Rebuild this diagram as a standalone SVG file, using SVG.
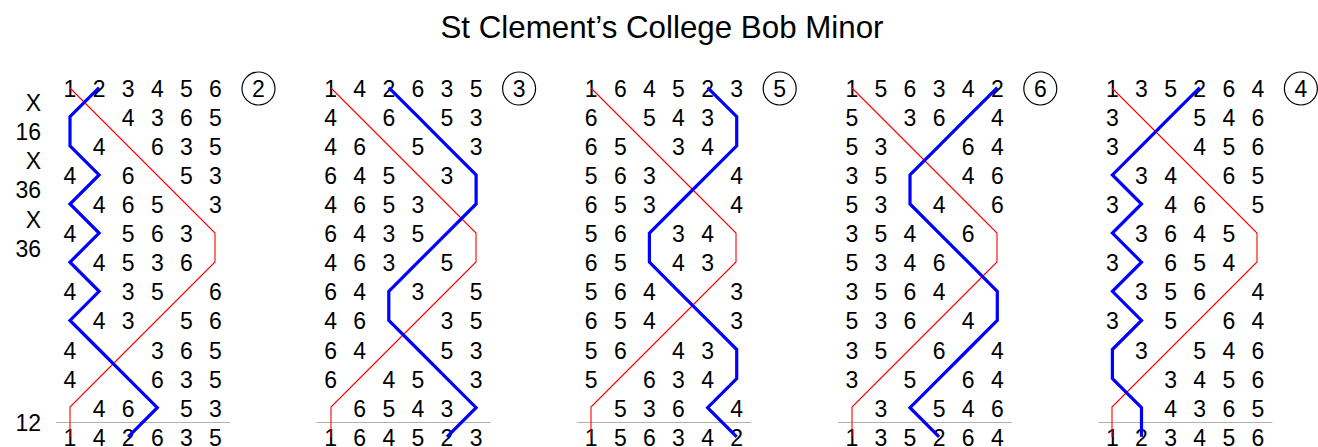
<svg xmlns="http://www.w3.org/2000/svg" width="1318" height="447" viewBox="0 0 1318 447">
<style>
text{font-family:"Liberation Sans",Arial,Helvetica,sans-serif;font-size:23px;fill:#000}
.d{text-anchor:middle}
.pn{text-anchor:end}
.title{font-size:31.3px;text-anchor:middle}
.treble{fill:none;stroke:#ff0000;stroke-width:1.1}
.work{fill:none;stroke:#0000ff;stroke-width:3.2;stroke-linejoin:miter;stroke-miterlimit:10}
.le{stroke:#b0b0b0;stroke-width:1}
.ring{fill:none;stroke:#000;stroke-width:1.2}
</style>
<rect width="1318" height="447" fill="#fff"/>
<text class="title" x="662" y="38">St Clement’s College Bob Minor</text>
<g id="place-notation">
<text class="pn" x="41" y="111.1">X</text>
<text class="pn" x="41" y="140.2">16</text>
<text class="pn" x="41" y="169.3">X</text>
<text class="pn" x="41" y="198.4">36</text>
<text class="pn" x="41" y="227.5">X</text>
<text class="pn" x="41" y="256.6">36</text>
<text class="pn" x="41" y="431.2">12</text>
</g>
<g id="lead1">
<line class="le" x1="56" y1="422.5" x2="230" y2="422.5"/>
<circle class="ring" cx="258.5" cy="88.5" r="16.5"/>
<text class="d" x="258.5" y="96.8">2</text>
<text class="d" y="96.6" x="70 99.1 128.2 157.3 186.4 215.5">123456</text>
<text class="d" y="125.7" x="128.2 157.3 186.4 215.5">4365</text>
<text class="d" y="154.8" x="99.1 157.3 186.4 215.5">4635</text>
<text class="d" y="183.9" x="70 128.2 186.4 215.5">4653</text>
<text class="d" y="213" x="99.1 128.2 157.3 215.5">4653</text>
<text class="d" y="242.1" x="70 128.2 157.3 186.4">4563</text>
<text class="d" y="271.2" x="99.1 128.2 157.3 186.4">4536</text>
<text class="d" y="300.3" x="70 128.2 157.3 215.5">4356</text>
<text class="d" y="329.4" x="99.1 128.2 186.4 215.5">4356</text>
<text class="d" y="358.5" x="70 157.3 186.4 215.5">4365</text>
<text class="d" y="387.6" x="70 157.3 186.4 215.5">4635</text>
<text class="d" y="416.7" x="99.1 128.2 186.4 215.5">4653</text>
<text class="d" y="445.8" x="70 99.1 128.2 157.3 186.4 215.5">142635</text>
</g>
<g id="lead2" transform="translate(260.6,0)">
<line class="le" x1="56" y1="422.5" x2="230" y2="422.5"/>
<circle class="ring" cx="258.5" cy="88.5" r="16.5"/>
<text class="d" x="258.5" y="96.8">3</text>
<text class="d" y="96.6" x="70 99.1 128.2 157.3 186.4 215.5">142635</text>
<text class="d" y="125.7" x="70 128.2 186.4 215.5">4653</text>
<text class="d" y="154.8" x="70 99.1 157.3 215.5">4653</text>
<text class="d" y="183.9" x="70 99.1 128.2 186.4">6453</text>
<text class="d" y="213" x="70 99.1 128.2 157.3">4653</text>
<text class="d" y="242.1" x="70 99.1 128.2 157.3">6435</text>
<text class="d" y="271.2" x="70 99.1 128.2 186.4">4635</text>
<text class="d" y="300.3" x="70 99.1 157.3 215.5">6435</text>
<text class="d" y="329.4" x="70 99.1 186.4 215.5">4635</text>
<text class="d" y="358.5" x="70 99.1 186.4 215.5">6453</text>
<text class="d" y="387.6" x="70 128.2 157.3 215.5">6453</text>
<text class="d" y="416.7" x="99.1 128.2 157.3 186.4">6543</text>
<text class="d" y="445.8" x="70 99.1 128.2 157.3 186.4 215.5">164523</text>
</g>
<g id="lead3" transform="translate(521.2,0)">
<line class="le" x1="56" y1="422.5" x2="230" y2="422.5"/>
<circle class="ring" cx="258.5" cy="88.5" r="16.5"/>
<text class="d" x="258.5" y="96.8">5</text>
<text class="d" y="96.6" x="70 99.1 128.2 157.3 186.4 215.5">164523</text>
<text class="d" y="125.7" x="70 128.2 157.3 186.4">6543</text>
<text class="d" y="154.8" x="70 99.1 157.3 186.4">6534</text>
<text class="d" y="183.9" x="70 99.1 128.2 215.5">5634</text>
<text class="d" y="213" x="70 99.1 128.2 215.5">6534</text>
<text class="d" y="242.1" x="70 99.1 157.3 186.4">5634</text>
<text class="d" y="271.2" x="70 99.1 157.3 186.4">6543</text>
<text class="d" y="300.3" x="70 99.1 128.2 215.5">5643</text>
<text class="d" y="329.4" x="70 99.1 128.2 215.5">6543</text>
<text class="d" y="358.5" x="70 99.1 157.3 186.4">5643</text>
<text class="d" y="387.6" x="70 128.2 157.3 186.4">5634</text>
<text class="d" y="416.7" x="99.1 128.2 157.3 215.5">5364</text>
<text class="d" y="445.8" x="70 99.1 128.2 157.3 186.4 215.5">156342</text>
</g>
<g id="lead4" transform="translate(781.8,0)">
<line class="le" x1="56" y1="422.5" x2="230" y2="422.5"/>
<circle class="ring" cx="258.5" cy="88.5" r="16.5"/>
<text class="d" x="258.5" y="96.8">6</text>
<text class="d" y="96.6" x="70 99.1 128.2 157.3 186.4 215.5">156342</text>
<text class="d" y="125.7" x="70 128.2 157.3 215.5">5364</text>
<text class="d" y="154.8" x="70 99.1 186.4 215.5">5364</text>
<text class="d" y="183.9" x="70 99.1 186.4 215.5">3546</text>
<text class="d" y="213" x="70 99.1 157.3 215.5">5346</text>
<text class="d" y="242.1" x="70 99.1 128.2 186.4">3546</text>
<text class="d" y="271.2" x="70 99.1 128.2 157.3">5346</text>
<text class="d" y="300.3" x="70 99.1 128.2 157.3">3564</text>
<text class="d" y="329.4" x="70 99.1 128.2 186.4">5364</text>
<text class="d" y="358.5" x="70 99.1 157.3 215.5">3564</text>
<text class="d" y="387.6" x="70 128.2 186.4 215.5">3564</text>
<text class="d" y="416.7" x="99.1 157.3 186.4 215.5">3546</text>
<text class="d" y="445.8" x="70 99.1 128.2 157.3 186.4 215.5">135264</text>
</g>
<g id="lead5" transform="translate(1042.4,0)">
<line class="le" x1="56" y1="422.5" x2="230" y2="422.5"/>
<circle class="ring" cx="258.5" cy="88.5" r="16.5"/>
<text class="d" x="258.5" y="96.8">4</text>
<text class="d" y="96.6" x="70 99.1 128.2 157.3 186.4 215.5">135264</text>
<text class="d" y="125.7" x="70 157.3 186.4 215.5">3546</text>
<text class="d" y="154.8" x="70 157.3 186.4 215.5">3456</text>
<text class="d" y="183.9" x="99.1 128.2 186.4 215.5">3465</text>
<text class="d" y="213" x="70 128.2 157.3 215.5">3465</text>
<text class="d" y="242.1" x="99.1 128.2 157.3 186.4">3645</text>
<text class="d" y="271.2" x="70 128.2 157.3 186.4">3654</text>
<text class="d" y="300.3" x="99.1 128.2 157.3 215.5">3564</text>
<text class="d" y="329.4" x="70 128.2 186.4 215.5">3564</text>
<text class="d" y="358.5" x="99.1 157.3 186.4 215.5">3546</text>
<text class="d" y="387.6" x="128.2 157.3 186.4 215.5">3456</text>
<text class="d" y="416.7" x="128.2 157.3 186.4 215.5">4365</text>
<text class="d" y="445.8" x="70 99.1 128.2 157.3 186.4 215.5">123456</text>
</g>
<g id="connectors">
<polyline class="treble" points="70,88 99,117 128,146 157,175 186,204 215,233 215,262 186,291 157,320 128,349 99,378 70,407 70,437"/>
<polyline class="treble" points="331,88 360,117 389,146 418,175 447,204 476,233 476,262 447,291 418,320 389,349 360,378 331,407 331,437"/>
<polyline class="treble" points="591,88 620,117 649,146 678,175 707,204 736,233 736,262 707,291 678,320 649,349 620,378 591,407 591,437"/>
<polyline class="treble" points="852,88 881,117 910,146 939,175 968,204 997,233 997,262 968,291 939,320 910,349 881,378 852,407 852,437"/>
<polyline class="treble" points="1112,88 1141,117 1170,146 1199,175 1228,204 1257,233 1257,262 1228,291 1199,320 1170,349 1141,378 1112,407 1112,437"/>
<polyline class="work" points="99.1,87.6 70,116.7 70,145.8 99.1,174.9 70,204 99.1,233.1 70,262.2 99.1,291.3 70,320.4 99.1,349.5 128.2,378.6 157.3,407.7 128.2,436.8"/>
<polyline class="work" points="388.8,87.6 417.9,116.7 447,145.8 476.1,174.9 476.1,204 447,233.1 417.9,262.2 388.8,291.3 388.8,320.4 417.9,349.5 447,378.6 476.1,407.7 447,436.8"/>
<polyline class="work" points="707.6,87.6 736.7,116.7 736.7,145.8 707.6,174.9 678.5,204 649.4,233.1 649.4,262.2 678.5,291.3 707.6,320.4 736.7,349.5 736.7,378.6 707.6,407.7 736.7,436.8"/>
<polyline class="work" points="997.3,87.6 968.2,116.7 939.1,145.8 910,174.9 910,204 939.1,233.1 968.2,262.2 997.3,291.3 997.3,320.4 968.2,349.5 939.1,378.6 910,407.7 939.1,436.8"/>
<polyline class="work" points="1199.7,87.6 1170.6,116.7 1141.5,145.8 1112.4,174.9 1141.5,204 1112.4,233.1 1141.5,262.2 1112.4,291.3 1141.5,320.4 1112.4,349.5 1112.4,378.6 1141.5,407.7 1141.5,436.8"/>
</g>
</svg>
